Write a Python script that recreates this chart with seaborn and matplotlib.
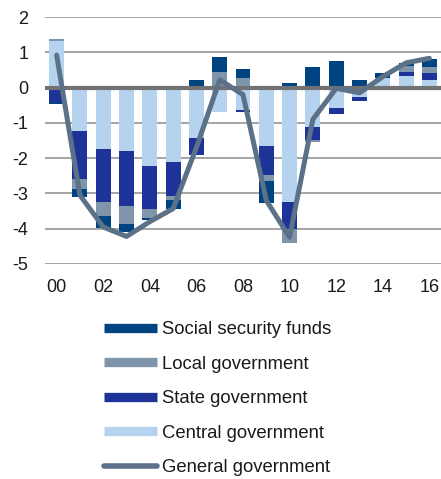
import numpy as np
import pandas as pd
import matplotlib
matplotlib.use("Agg")
import matplotlib.pyplot as plt
from matplotlib.lines import Line2D
import seaborn as sns

years = [str(y) for y in range(2000, 2017)]
tick_labels = ["00", "02", "04", "06", "08", "10", "12", "14", "16"]

central = [1.32, -1.24, -1.73, -1.80, -2.23, -2.11, -1.42, -0.68, -0.63, -1.67, -3.25, -1.12, -0.59, -0.27, 0.28, 0.34, 0.22]
state = [-0.41, -1.34, -1.52, -1.57, -1.21, -0.95, -0.50, 0.0, -0.07, -0.80, -0.76, -0.36, -0.16, -0.10, 0.0, 0.11, 0.19]
local = [0.05, -0.30, -0.38, -0.49, -0.26, -0.14, 0.0, 0.45, 0.27, -0.19, -0.40, -0.07, 0.0, 0.0, 0.0, 0.16, 0.17]
ssf = [-0.05, -0.22, -0.35, -0.24, -0.05, -0.24, 0.22, 0.43, 0.26, -0.60, 0.14, 0.57, 0.75, 0.22, 0.12, 0.08, 0.24]
general = [0.92, -3.05, -3.95, -4.22, -3.80, -3.43, -1.70, 0.22, -0.20, -3.20, -4.24, -0.90, -0.02, -0.15, 0.31, 0.70, 0.83]

series_names = ["Central government", "State government", "Local government", "Social security funds"]
series_vals = [central, state, local, ssf]
colors = {
    "Central government": "#B5D3EF",
    "State government": "#1D3397",
    "Local government": "#7F95A9",
    "Social security funds": "#004381",
}
line_color = "#5B7187"

sns.set_style("white")
plt.rcParams["font.family"] = ["Liberation Sans", "DejaVu Sans"]

fig = plt.figure(figsize=(4.41, 4.79), dpi=100)
ax = fig.add_axes([45 / 441, (479 - 264) / 479, 396 / 441, (264 - 17) / 479])

pos_cum = np.zeros(len(years))
neg_cum = np.zeros(len(years))
for name, vals in zip(series_names, series_vals):
    v = np.array(vals, dtype=float)
    bottom = np.where(v >= 0, pos_cum, neg_cum)
    df = pd.DataFrame({"year": years, "value": v})
    sns.barplot(data=df, x="year", y="value", order=years, color=colors[name],
                saturation=1, width=0.64, errorbar=None, ax=ax,
                bottom=bottom, linewidth=0, edgecolor="none", zorder=2)
    pos_cum = pos_cum + np.where(v >= 0, v, 0)
    neg_cum = neg_cum + np.where(v < 0, v, 0)

ax.axhline(0, color="#727272", lw=3.0, zorder=3)
sns.lineplot(x=np.arange(len(years)), y=general, color=line_color, lw=3.6,
             ax=ax, zorder=4, solid_joinstyle="round", solid_capstyle="round")

ax.set_xlim(-0.5, 16.5)
ax.set_ylim(-5, 2)
ax.set_yticks(range(-5, 3))
ax.set_yticklabels([str(t) for t in range(-5, 3)])
ax.set_xticks(range(0, 17, 2))
ax.set_xticklabels(tick_labels)
ax.set_xlabel("")
ax.set_ylabel("")
ax.grid(axis="y", color="#8C8C8C", lw=1.1, zorder=0)
ax.grid(axis="x", visible=False)
ax.set_axisbelow(True)
for s in ax.spines.values():
    s.set_visible(False)
ax.tick_params(axis="both", length=0, labelsize=13, colors="#1a1a1a")
ax.tick_params(axis="x", pad=11)
ax.tick_params(axis="y", pad=12)

handles = [
    Line2D([0], [0], color=colors["Social security funds"], lw=6.7, solid_capstyle="butt"),
    Line2D([0], [0], color=colors["Local government"], lw=6.7, solid_capstyle="butt"),
    Line2D([0], [0], color=colors["State government"], lw=6.7, solid_capstyle="butt"),
    Line2D([0], [0], color=colors["Central government"], lw=6.7, solid_capstyle="butt"),
    Line2D([0], [0], color=line_color, lw=4, solid_capstyle="round"),
]
labels = ["Social security funds", "Local government", "State government",
          "Central government", "General government"]
fig.legend(handles, labels, loc="upper left",
           bbox_to_anchor=(104 / 441, 1 - 321 / 479), frameon=False,
           fontsize=13.3, handlelength=2.85, handletextpad=0.3, labelspacing=0.95,
           borderpad=0, borderaxespad=0, labelcolor="#1a1a1a")

fig.savefig("out.png", dpi=100)
